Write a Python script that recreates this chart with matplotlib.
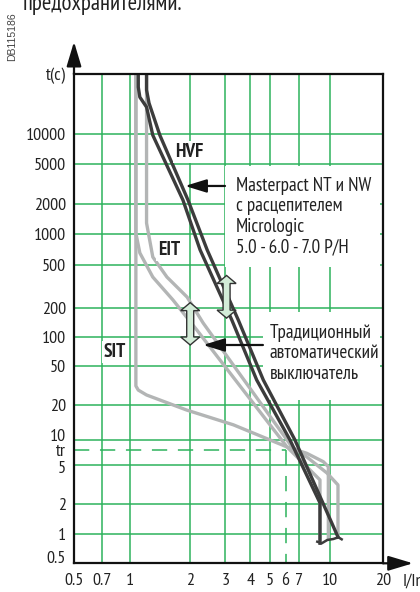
import numpy as np
import matplotlib
matplotlib.use("Agg")
import matplotlib.pyplot as plt
from matplotlib.patches import Polygon, Rectangle
from matplotlib.transforms import ScaledTranslation, IdentityTransform
import logging
logging.getLogger('matplotlib.font_manager').setLevel(logging.ERROR)

plt.rcParams['font.family'] = ['PT Sans Narrow', 'Roboto Condensed', 'Fira Sans Condensed',
                               'IBM Plex Sans Condensed', 'Archivo Narrow',
                               'Liberation Sans', 'DejaVu Sans']

# ---------------- data (I/In , t in s) ----------------
x_ticks = [0.5, 0.7, 1, 2, 3, 4, 5, 6, 7, 10, 20]
x_ticklabels = ['0.5', '0.7', '1', '2', '3', '4', '5', '6', '7', '10', '20']
y_ticks = [0.5, 1, 2, 5, 7.5, 10, 20, 50, 100, 200, 500, 1000, 2000, 5000, 10000, 40000]
y_ticklabels = ['0.5', '1', '2', '5', 'tr', '10', '20', '50', '100', '200', '500',
                '1000', '2000', '5000', '10000', 't(c)']
x_grid = [0.7, 1, 2, 3, 4, 5, 7, 10]
y_grid = [1, 2, 5, 10, 20, 50, 100, 200, 500, 1000, 2000, 5000, 10000]
tr_value = 7.5
tr_current = 6

# Masterpact / Micrologic band (dark)
mp_min_I = [1.10, 1.10, 1.12, 1.21, 1.30, 1.84, 2.24, 3.23, 4.30, 6.31, 8.91, 8.91]
mp_min_t = [40000, 29600, 23500, 18700, 9800, 2200, 700, 150, 36, 10, 2.05, 0.80]
mp_max_I = [1.21, 1.21, 1.245, 1.41, 1.95, 2.43, 3.48, 4.64, 6.68, 11.1]
mp_max_t = [40000, 27700, 20500, 9800, 2200, 700, 150, 36, 10, 0.926]
mp_end_I = [8.64, 9.09, 9.69, 10.44, 11.15, 11.65]
mp_end_t = [0.829, 0.799, 0.863, 0.883, 0.919, 0.877]

# Traditional breaker curves (grey)
sit_I = [1.07, 1.07, 1.10, 1.21, 1.92, 3.29, 6.10, 7.65, 9.26, 9.81, 9.81]
sit_t = [40000, 31.3, 28.4, 25.3, 18.1, 13.5, 8.24, 6.92, 5.48, 4.80, 0.904]
eit_min_I = [1.07, 1.07, 1.12, 1.30, 1.64, 2.16, 6.10, 8.91, 8.91]
eit_min_t = [40000, 1020, 652, 385, 237, 118, 8.24, 3.52, 0.863]
eit_max_I = [1.21, 1.21, 1.30, 1.53, 1.93, 2.32, 6.46, 7.66, 9.66, 11.1, 11.1]
eit_max_t = [40000, 1290, 595, 385, 252, 140, 8.24, 6.24, 4.14, 3.13, 0.926]

# ---------------- schematic axis scales ----------------
x_nodes = [0.5, 0.7, 1, 10, 20]
x_node_pos = [74, 101.7, 130, 330, 383]
y_nodes = [0.5, 1, 2, 5, 10, 20, 50, 100, 200, 500, 1000, 2000, 5000, 10000, 40000]
y_node_pos = [-563.3, -533.7, -504, -465, -440, -405, -366, -337, -308, -264.7,
              -234, -204.3, -164, -134.3, -74]


def make_scale(vals, pos):
    lv = np.log10(np.asarray(vals, float))
    pos = np.asarray(pos, float)

    def fwd(v):
        v = np.asarray(v, float)
        l = np.log10(np.clip(v, 1e-12, None))
        out = np.interp(l, lv, pos)
        out = np.where(l < lv[0], pos[0] + (l - lv[0]) * (pos[1] - pos[0]) / (lv[1] - lv[0]), out)
        out = np.where(l > lv[-1], pos[-1] + (l - lv[-1]) * (pos[-1] - pos[-2]) / (lv[-1] - lv[-2]), out)
        return out

    def inv(p):
        p = np.asarray(p, float)
        l = np.interp(p, pos, lv)
        l = np.where(p < pos[0], lv[0] + (p - pos[0]) * (lv[1] - lv[0]) / (pos[1] - pos[0]), l)
        l = np.where(p > pos[-1], lv[-1] + (p - pos[-1]) * (lv[-1] - lv[-2]) / (pos[-1] - pos[-2]), l)
        return 10 ** l
    return fwd, inv


W, H = 420, 592
fig = plt.figure(figsize=(W / 100, H / 100), dpi=100)
ax = fig.add_axes([74 / W, (H - 563.3) / H, 309 / W, 489.3 / H])
ax.set_xscale('function', functions=make_scale(x_nodes, x_node_pos))
ax.set_yscale('function', functions=make_scale(y_nodes, y_node_pos))
ax.set_xlim(0.5, 20)
ax.set_ylim(0.5, 40000)

GREEN = '#2db35d'
DARK = '#3c3c3c'
GREY = '#b3b5b5'
TXT = '#222222'

for xv in x_grid:
    ax.axvline(xv, color=GREEN, lw=1.1, zorder=1)
for yv in y_grid:
    ax.axhline(yv, color=GREEN, lw=1.1, zorder=1)
ax.plot([0.5, tr_current], [tr_value, tr_value], color=GREEN, lw=1.1,
        dashes=[10, 7], zorder=1)
ax.plot([tr_current, tr_current], [tr_value, 0.5], color=GREEN, lw=1.1,
        dashes=[10, 7], zorder=1)

# white boxes behind the annotations
ax.add_patch(Rectangle((0.4887, 0.6056), 0.5013, 0.2064, transform=ax.transAxes,
                       facecolor='white', edgecolor='none', zorder=2))
ax.add_patch(Rectangle((0.6117, 0.3337), 0.3783, 0.1799, transform=ax.transAxes,
                       facecolor='white', edgecolor='none', zorder=2))

lw = 2.4
ax.plot(sit_I, sit_t, color=GREY, lw=lw, solid_joinstyle='round', zorder=3)
ax.plot(eit_min_I, eit_min_t, color=GREY, lw=lw, solid_joinstyle='round', zorder=3)
ax.plot(eit_max_I, eit_max_t, color=GREY, lw=lw, solid_joinstyle='round', zorder=3)
ax.plot(mp_min_I, mp_min_t, color=DARK, lw=lw, solid_joinstyle='round', zorder=4)
ax.plot(mp_max_I, mp_max_t, color=DARK, lw=lw, solid_joinstyle='round', zorder=4)
ax.plot(mp_end_I, mp_end_t, color=DARK, lw=1.8, solid_joinstyle='round', zorder=4)

# spines / ticks
for s in ax.spines.values():
    s.set_linewidth(1.6)
    s.set_color('#111111')
    s.set_zorder(6)

ax.xaxis.set_major_locator(matplotlib.ticker.FixedLocator(x_ticks))
ax.xaxis.set_minor_locator(matplotlib.ticker.NullLocator())
ax.yaxis.set_major_locator(matplotlib.ticker.FixedLocator(y_ticks))
ax.yaxis.set_minor_locator(matplotlib.ticker.NullLocator())
ax.set_xticklabels(x_ticklabels)
ax.set_yticklabels(y_ticklabels)
ax.tick_params(axis='both', length=0, labelsize=13, colors=TXT)
ax.tick_params(axis='y', pad=6)
ax.tick_params(axis='x', pad=7)

nudges = {'10': 5, '5': -2, '0.5': 6}
for tick, lab in zip(ax.yaxis.get_major_ticks(), y_ticklabels):
    if lab in nudges:
        tick.label1.set_transform(tick.label1.get_transform() +
                                  ScaledTranslation(0, nudges[lab] / 100, fig.dpi_scale_trans))

# axis arrows
ax.annotate('', xy=(0, 1.066), xytext=(0, 1.0), xycoords='axes fraction',
            arrowprops=dict(arrowstyle='-|>,head_length=1.5,head_width=0.45',
                            mutation_scale=10, lw=1.6, color='#111111',
                            shrinkA=0, shrinkB=0), annotation_clip=False)
ax.annotate('', xy=(1.097, 0), xytext=(1.0, 0), xycoords='axes fraction',
            arrowprops=dict(arrowstyle='-|>,head_length=1.5,head_width=0.45',
                            mutation_scale=10, lw=1.6, color='#111111',
                            shrinkA=0, shrinkB=0), annotation_clip=False)
ax.text(1.065, -0.0376, 'I/In', transform=ax.transAxes, ha='left', va='center',
        fontsize=13, color=TXT, clip_on=False)

# curve labels
lab_kw = dict(fontsize=14, fontweight='bold', color=TXT, ha='center', va='center',
              zorder=7, bbox=dict(boxstyle='square,pad=0.1', fc='white', ec='none'))
ax.text(1.97, 6600, 'HVF', **lab_kw)
ax.text(1.567, 697, 'EIT', **lab_kw)
ax.text(0.828, 69.8, 'SIT', **lab_kw)

# annotation texts
ax.text(0.524, 0.709, 'Masterpact NT и NW\nс расцепителем\nMicrologic\n5.0 - 6.0 - 7.0 P/H',
        transform=ax.transAxes, ha='left', va='center', fontsize=13.8, color=TXT,
        linespacing=1.18, zorder=7)
ax.text(0.634, 0.4288, 'Традиционный\nавтоматический\nвыключатель',
        transform=ax.transAxes, ha='left', va='center', fontsize=13.8, color=TXT,
        linespacing=1.18, zorder=7)

arr_kw = dict(arrowstyle='-|>,head_length=1.3,head_width=0.4', mutation_scale=10,
              lw=1.6, color='#111111', shrinkA=0, shrinkB=0)
ax.annotate('', xy=(1.884, 3034), xytext=(2.985, 3034), arrowprops=arr_kw, zorder=7)
ax.annotate('', xy=(2.32, 82.6), xytext=(4.62, 82.6), arrowprops=arr_kw, zorder=7)

# hollow double arrows
fig.canvas.draw()


def double_arrow(xv, y_top, y_bot):
    (cx, yt) = ax.transData.transform((xv, y_top))
    (_, yb) = ax.transData.transform((xv, y_bot))
    hw, hl, sw = 9.5, 8, 3.5
    verts = [(cx, yt), (cx + hw, yt - hl), (cx + sw, yt - hl), (cx + sw, yb + hl),
             (cx + hw, yb + hl), (cx, yb), (cx - hw, yb + hl), (cx - sw, yb + hl),
             (cx - sw, yt - hl), (cx - hw, yt - hl)]
    ax.add_patch(Polygon(verts, closed=True, transform=IdentityTransform(),
                         facecolor='#d3ecd8', edgecolor='#333333', lw=1.0, zorder=8))


double_arrow(2.0, 224, 82.6)
double_arrow(3.04, 398, 157)

# page fragments
fig.text(23 / W, 1 - 10 / H, 'предохранителями.', ha='left', va='baseline',
         fontsize=16.5, color=TXT)
fig.text(12.5 / W, 1 - 37 / H, 'DB115186', rotation=90, ha='center', va='center',
         fontsize=7.5, color='#444444', family=['Liberation Sans', 'DejaVu Sans'])

fig.savefig('out.png', dpi=100)
